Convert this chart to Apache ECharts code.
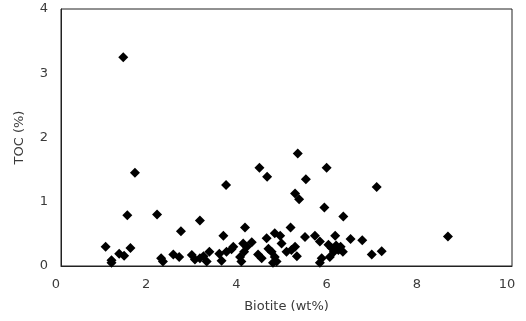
<!DOCTYPE html>
<html>
<head>
<meta charset="utf-8">
<script src="https://cdn.jsdelivr.net/npm/echarts@6/dist/echarts.min.js"></script>
<style>html,body{margin:0;padding:0;background:#fff}#c{width:526px;height:321px}</style>
</head>
<body>
<div id="c"></div>
<script>
const biotite = [0.99,1.12,1.12,1.29,1.38,1.40,1.47,1.54,1.64,2.13,2.22,2.26,2.49,2.62,2.66,2.90,2.97,3.08,3.08,3.16,3.23,3.29,3.51,3.56,3.60,3.66,3.67,3.78,3.82,3.97,4.00,4.04,4.06,4.08,4.12,4.23,4.37,4.40,4.45,4.56,4.57,4.60,4.67,4.70,4.74,4.74,4.78,4.86,4.89,5.00,5.09,5.11,5.19,5.19,5.23,5.25,5.28,5.41,5.43,5.63,5.74,5.74,5.78,5.84,5.89,5.93,5.96,6.00,6.05,6.08,6.10,6.15,6.20,6.25,6.26,6.42,6.68,6.89,7.00,7.11,8.58];
const toc     = [0.30,0.09,0.05,0.19,3.25,0.16,0.79,0.28,1.45,0.80,0.12,0.07,0.18,0.14,0.54,0.17,0.10,0.71,0.12,0.15,0.07,0.22,0.19,0.08,0.47,1.26,0.22,0.26,0.30,0.14,0.07,0.35,0.22,0.60,0.30,0.37,0.18,1.53,0.12,0.43,1.39,0.27,0.22,0.05,0.51,0.14,0.07,0.47,0.35,0.22,0.60,0.25,0.30,1.13,0.15,1.75,1.04,0.45,1.35,0.47,0.38,0.05,0.12,0.91,1.53,0.33,0.14,0.28,0.22,0.47,0.32,0.25,0.30,0.22,0.77,0.42,0.40,0.18,1.23,0.23,0.46];
const xTicks = [0,2,4,6,8,10];
const yTicks = [0,1,2,3,4];

const pts = biotite.map((x,i)=>[x,toc[i]]);
const chart = echarts.init(document.getElementById('c'));
const lab = {color:'#3a3a3a', fontFamily:'DejaVu Sans, sans-serif', fontSize:13};
chart.setOption({
  animation:false,
  grid:{left:61,right:14,top:9,bottom:55,show:true,borderColor:'#222',borderWidth:1},
  xAxis:{type:'value',min:xTicks[0],max:xTicks[xTicks.length-1],interval:2,
    name:'Biotite (wt%)',nameLocation:'middle',nameGap:34,nameTextStyle:lab,
    axisLine:{lineStyle:{color:'#222'}},axisTick:{show:false},splitLine:{show:false},
    axisLabel:Object.assign({margin:12,padding:[0,10,0,0]},lab)},
  yAxis:{type:'value',min:yTicks[0],max:yTicks[yTicks.length-1],interval:1,
    name:'TOC (%)',nameLocation:'middle',nameGap:35,nameTextStyle:lab,
    axisLine:{lineStyle:{color:'#222'}},axisTick:{show:false},splitLine:{show:false},
    axisLabel:Object.assign({margin:13},lab)},
  series:[{type:'scatter',data:pts,symbol:'diamond',symbolSize:[10,10],
    itemStyle:{color:'#000',opacity:1}}]
});
</script>
</body>
</html>
